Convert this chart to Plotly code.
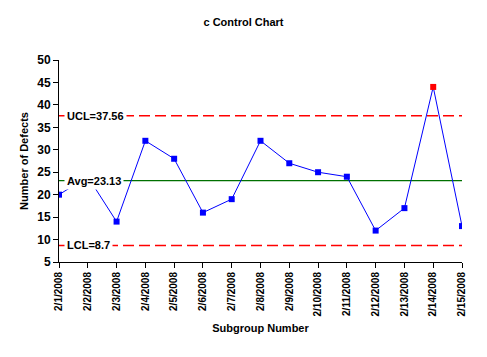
import plotly.graph_objects as go

dates = ["2/1/2008", "2/2/2008", "2/3/2008", "2/4/2008", "2/5/2008", "2/6/2008", "2/7/2008",
         "2/8/2008", "2/9/2008", "2/10/2008", "2/11/2008", "2/12/2008", "2/13/2008",
         "2/14/2008", "2/15/2008"]
defects = [20, 24, 14, 32, 28, 16, 19, 32, 27, 25, 24, 12, 17, 44, 13]
avg = 23.13
ucl = 37.56
lcl = 8.7
y_ticks = [5, 10, 15, 20, 25, 30, 35, 40, 45, 50]

xs = list(range(len(dates)))
colors = ["red" if (v > ucl or v < lcl) else "blue" for v in defects]

FONT = "Liberation Sans, Arial"
W, H = 479, 349  # page body adds an 8px margin

fig = go.Figure()
for val, col, dash in [(ucl, "red", "dash"), (lcl, "red", "dash"), (avg, "#007000", "solid")]:
    fig.add_trace(go.Scatter(x=[xs[0], xs[-1]], y=[val, val], mode="lines",
                             line=dict(color=col, width=1.5 if dash == "dash" else 1.2,
                                       dash="11px,5px" if dash == "dash" else "solid"),
                             hoverinfo="skip", showlegend=False))
fig.add_trace(go.Scatter(x=xs, y=defects, mode="lines+markers",
                         line=dict(color="blue", width=1),
                         marker=dict(symbol="square", size=6, color=colors),
                         showlegend=False))

for val, txt in [(ucl, "UCL=37.56"), (avg, "Avg=23.13"), (lcl, "LCL=8.7")]:
    fig.add_annotation(x=0.012, xref="paper", y=val, yref="y", text=txt, showarrow=False,
                       xanchor="left", yanchor="middle", bgcolor="white", borderpad=2,
                       font=dict(family=FONT, size=11, color="black", weight="bold"))

fig.update_layout(
    width=W, height=H,
    margin=dict(l=51, r=25, t=52, b=95, autoexpand=False),
    paper_bgcolor="white", plot_bgcolor="white",
    title=dict(text="c Control Chart", x=235.5 / W, xanchor="center", y=1 - 14 / H, yanchor="middle",
               font=dict(family=FONT, size=11, color="black", weight="bold")),
    font=dict(family=FONT, color="black"),
)
fig.update_xaxes(range=[0, len(dates) - 1], tickvals=xs, ticktext=dates, tickangle=-90,
                 automargin=False,
                 showgrid=False, zeroline=False, showline=True, linecolor="black", linewidth=1,
                 ticks="outside", ticklen=5, tickcolor="black",
                 tickfont=dict(family=FONT, size=10, color="black", weight="bold"),
                 title=dict(text="Subgroup Number", standoff=8,
                            font=dict(family=FONT, size=11, color="black", weight="bold")))
fig.update_yaxes(range=[5, 50], tickvals=y_ticks, showgrid=False, zeroline=False,
                 automargin=False,
                 showline=True, linecolor="black", linewidth=1,
                 ticks="outside", ticklen=5, tickcolor="black",
                 tickfont=dict(family=FONT, size=12, color="black", weight="bold"),
                 title=dict(text="Number of Defects", standoff=6,
                            font=dict(family=FONT, size=11, color="black", weight="bold")))

fig.write_html("out.html")
